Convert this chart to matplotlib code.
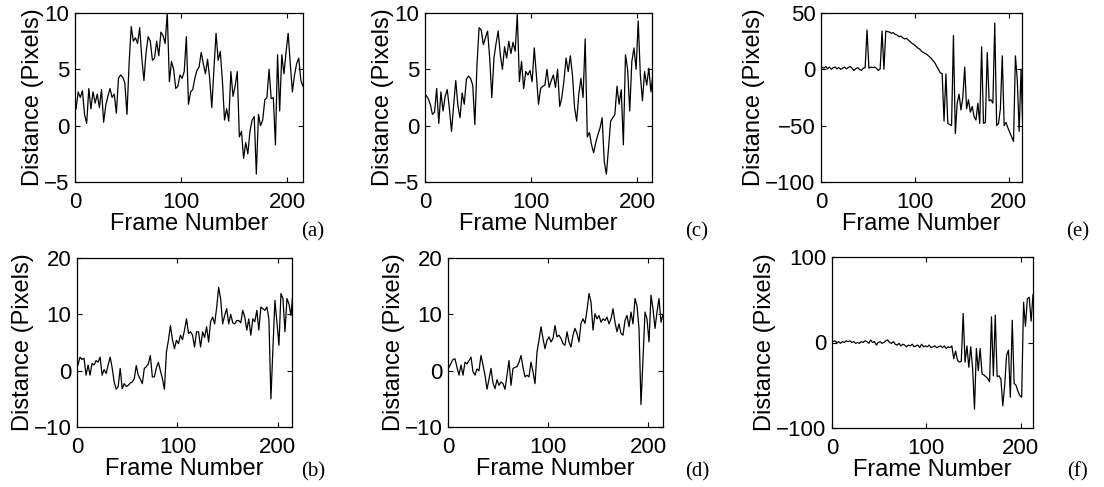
import numpy as np
import matplotlib
matplotlib.use('Agg')
import matplotlib.pyplot as plt

plt.rcParams['font.family'] = ['Liberation Sans', 'DejaVu Sans']

# frame numbers (every second frame)
frames = np.arange(1, 216, 2)

# (a) distance per frame
dist_a = [1.5, 3.0, 2.5, 3.1, 1.0, 0.2, 3.3, 1.5, 3.0, 2.0,
          2.8, 1.6, 3.2, 0.3, 1.8, 2.6, 3.3, 2.5, 2.8, 1.1,
          4.2, 4.5, 4.3, 3.8, 1.0, 5.5, 8.8, 7.5, 7.8, 7.3,
          8.7, 6.0, 4.0, 6.5, 7.9, 7.5, 5.8, 6.0, 7.5, 6.2,
          8.3, 8.0, 7.3, 10.0, 3.9, 5.7, 5.0, 3.3, 3.5, 4.5,
          4.2, 4.8, 7.9, 1.9, 3.0, 3.2, 4.2, 4.9, 5.2, 6.5,
          5.5, 4.6, 5.9, 4.2, 1.6, 5.0, 8.2, 5.8, 6.6, 4.0,
          0.5, 1.5, 0.4, 4.8, 2.6, 3.5, 4.8, -1.0, -0.5, -2.9,
          -1.5, -2.5, -0.5, 0.5, 0.8, -4.3, 1.0, 0.0, 0.5, 2.3,
          2.5, 5.0, 2.4, 2.5, -1.7, 6.3, 1.3, 6.3, 4.6, 6.5,
          8.2, 5.5, 3.0, 4.5, 5.5, 6.0, 4.0, 3.5]

# (c)
dist_c = [2.7, 2.4, 1.9, 1.0, 1.2, 3.3, 0.2, 3.0, 1.3, 2.6,
          3.2, 1.5, -0.5, 1.8, 4.0, 1.8, 0.7, 2.9, 1.9, 4.1,
          4.4, 4.2, 3.6, 0.1, 5.4, 8.7, 8.5, 7.2, 7.8, 8.4,
          6.0, 2.5, 6.0, 7.3, 8.4, 6.3, 5.0, 7.0, 6.0, 7.5,
          6.4, 7.4, 6.6, 9.9, 3.9, 5.7, 3.3, 4.8, 4.5, 4.9,
          3.9, 6.9, 4.5, 1.9, 3.3, 3.5, 3.6, 5.0, 3.4, 4.0,
          4.5, 3.4, 5.0, 1.7, 2.5, 4.0, 6.0, 4.8, 6.2, 4.5,
          1.6, 0.4, 2.8, 4.2, 2.5, 7.7, -1.0, -0.6, -1.7, -2.4,
          -1.5, -0.8, -0.2, 0.7, -3.2, -4.3, -2.0, 0.4, 0.7, 1.0,
          3.5, 1.9, 3.2, -1.7, 6.3, 5.0, 1.3, 5.7, 6.9, 5.0,
          9.3, 4.5, 2.2, 4.8, 3.6, 5.1, 3.0, 4.7]

# (e)
dist_e = [2, 1, 2.5, 0.5, 2, 0, 1.5, 2, 0.5, 1.5,
          0, 1, 2, 0.5, 1.5, 2.5, 1, -1, 0.5, 1.5,
          0, -1, 1, 1.5, 35, 1, 2, 1.5, 2, 1,
          -1, 0.5, 34, 0, 34, 33.5, 33, 32, 32.5, 31,
          30.5, 29, 29.5, 28, 27, 27.5, 26, 24.5, 23, 22,
          20.5, 19, 18, 16, 15, 14, 13, 11.5, 10, 8,
          6, 3, 0, -3, -4, -46, -4, -48, -49, -50,
          30, -57, -30, -22, -36, -25, 2, -35, -27, -38,
          -33, -42, -45, -30, -48, 20, -48, -47, 15, -28,
          -27, -30, 41, -50, -48, -35, 12, -50, -47, -52,
          -56, -60, -64, 12, -10, -55, 0, -58]

# (b)
dist_b = [1.0, 2.4, 2.0, 2.2, -0.8, 1.0, -0.8, 1.3, 1.0, 1.8,
          1.5, 2.4, -0.8, 0.2, -0.5, 1.0, 2.4, 0.5, -2.0, -3.3,
          -2.8, 0.4, -3.2, -2.3, -2.8, -2.6, -2.2, -2.0, -1.4, 0.9,
          -0.8, -1.5, -2.3, 0.4, 0.7, 1.2, 2.7, -1.1, -1.1, 0.5,
          1.5, 0.0, -1.4, -3.3, 3.3, 5.4, 8.0, 5.5, 3.9, 5.4,
          4.8, 6.3, 5.5, 7.2, 9.2, 6.6, 6.9, 6.3, 4.2, 6.9,
          6.9, 4.2, 6.9, 5.9, 7.8, 5.1, 8.7, 9.5, 8.3, 11.2,
          14.8, 12.7, 8.3, 9.8, 11.0, 8.3, 10.0, 8.5, 8.3, 8.9,
          8.9, 8.5, 10.7, 9.5, 7.2, 9.2, 6.3, 9.2, 8.7, 10.7,
          7.2, 11.3, 11.0, 10.7, 11.3, 9.2, -5.0, 3.9, 12.5, 8.6,
          4.5, 13.7, 12.8, 6.9, 12.8, 11.8, 9.8, 14.0]

# (d)
dist_d = [0.6, 1.3, 2.0, 2.1, 0.6, -0.8, 1.0, -0.8, 1.5, 1.2,
          1.8, 2.4, -0.2, -0.8, 0.3, 0.0, 2.7, 1.0, -0.8, -3.3,
          -1.5, 0.4, -2.2, -3.2, -1.6, -2.6, -2.0, -2.3, -3.3, -0.8,
          1.8, -2.6, 0.4, 0.6, 0.7, 1.5, 2.7, 0.6, -1.1, -0.8,
          -1.1, 1.5, -0.2, -2.3, 3.3, 5.4, 7.8, 5.7, 3.9, 5.4,
          6.0, 5.1, 5.7, 8.0, 6.0, 6.3, 5.7, 4.8, 4.5, 6.9,
          5.1, 4.2, 6.3, 7.5, 6.6, 5.1, 8.4, 9.2, 8.4, 10.7,
          13.7, 12.2, 7.2, 10.1, 9.2, 9.8, 8.6, 9.2, 8.9, 9.5,
          8.3, 9.2, 11.0, 8.6, 6.9, 8.3, 6.6, 6.3, 8.9, 9.8,
          7.8, 10.4, 8.3, 12.8, 11.5, 7.5, -6.0, 2.1, 10.4, 9.2,
          5.1, 13.4, 11.0, 7.5, 10.4, 12.8, 8.6, 10.0]

# (f)
dist_f = [1, 2, 0, 1, -1, 1, 0, 2, 1, 2,
          0, 1, -1, 0, -1, 1, 0, 2, 1, -1,
          3, 0, 1, -3, 0, 1, -1, 0, 2, 3,
          0, -1, 1, -2, -3, -1, -4, -2, -3, -5,
          -3, -4, -2, -5, -4, -3, -6, -2, -5, -4,
          -5, -3, -6, -5, -4, -6, -5, -4, -6, -4,
          -7, -5, -6, -4, -19, -10, -21, -23, -22, 34,
          -23, -4, -29, -5, -30, -78, -7, -33, -7, -37,
          -38, -40, -42, -46, 30, -39, 32, -40, -39, -43,
          -74, -50, -15, -9, -64, 26, -48, -50, -57, -62,
          -64, 47, 19, 51, 53, 25, 56]

W, H = 1104, 487

# (series, tag, ylim, yticks, xmax, axes box in px [left, top, right, bottom], tag pos px)
panels = [
    (dist_a, '(a)', (-5, 10), [-5, 0, 5, 10], 215, (75, 13, 303, 182), (313, 232)),
    (dist_c, '(c)', (-5, 10), [-5, 0, 5, 10], 214, (425, 13, 652, 182), (697, 232)),
    (dist_e, '(e)', (-100, 50), [-100, -50, 0, 50], 214, (821, 13, 1022, 182), (1078, 232)),
    (dist_b, '(b)', (-10, 20), [-10, 0, 10, 20], 214, (77, 258, 292, 427), (313, 472)),
    (dist_d, '(d)', (-10, 20), [-10, 0, 10, 20], 215, (448, 258, 663, 427), (697, 472)),
    (dist_f, '(f)', (-100, 100), [-100, 0, 100], 213, (832, 257, 1033, 428), (1078, 472)),
]

fig = plt.figure(figsize=(W / 100, H / 100), dpi=100)

for y, tag, ylim, yticks, xmax, box, tagpos in panels:
    l, t, r, b = box
    ax = fig.add_axes([l / W, 1 - b / H, (r - l) / W, (b - t) / H])
    ax.plot(frames[:len(y)], y, color='black', linewidth=0.9)
    ax.set_xlim(0, xmax)
    ax.set_ylim(*ylim)
    ax.set_xticks([0, 100, 200])
    ax.set_yticks(yticks)
    ax.tick_params(direction='in', top=True, right=True, length=3.5, width=0.8,
                   labelsize=16)
    ax.tick_params(axis='x', pad=7)
    ax.tick_params(axis='y', pad=4)
    for s in ax.spines.values():
        s.set_linewidth(0.9)
    ax.set_xlabel('Frame Number', fontsize=17, labelpad=0)
    ax.set_ylabel('Distance (Pixels)', fontsize=17, labelpad=0)
    fig.text(tagpos[0] / W, 1 - tagpos[1] / H, tag, ha='center', va='center',
             fontsize=15, family='Liberation Serif')

plt.savefig('out.png', dpi=100)
